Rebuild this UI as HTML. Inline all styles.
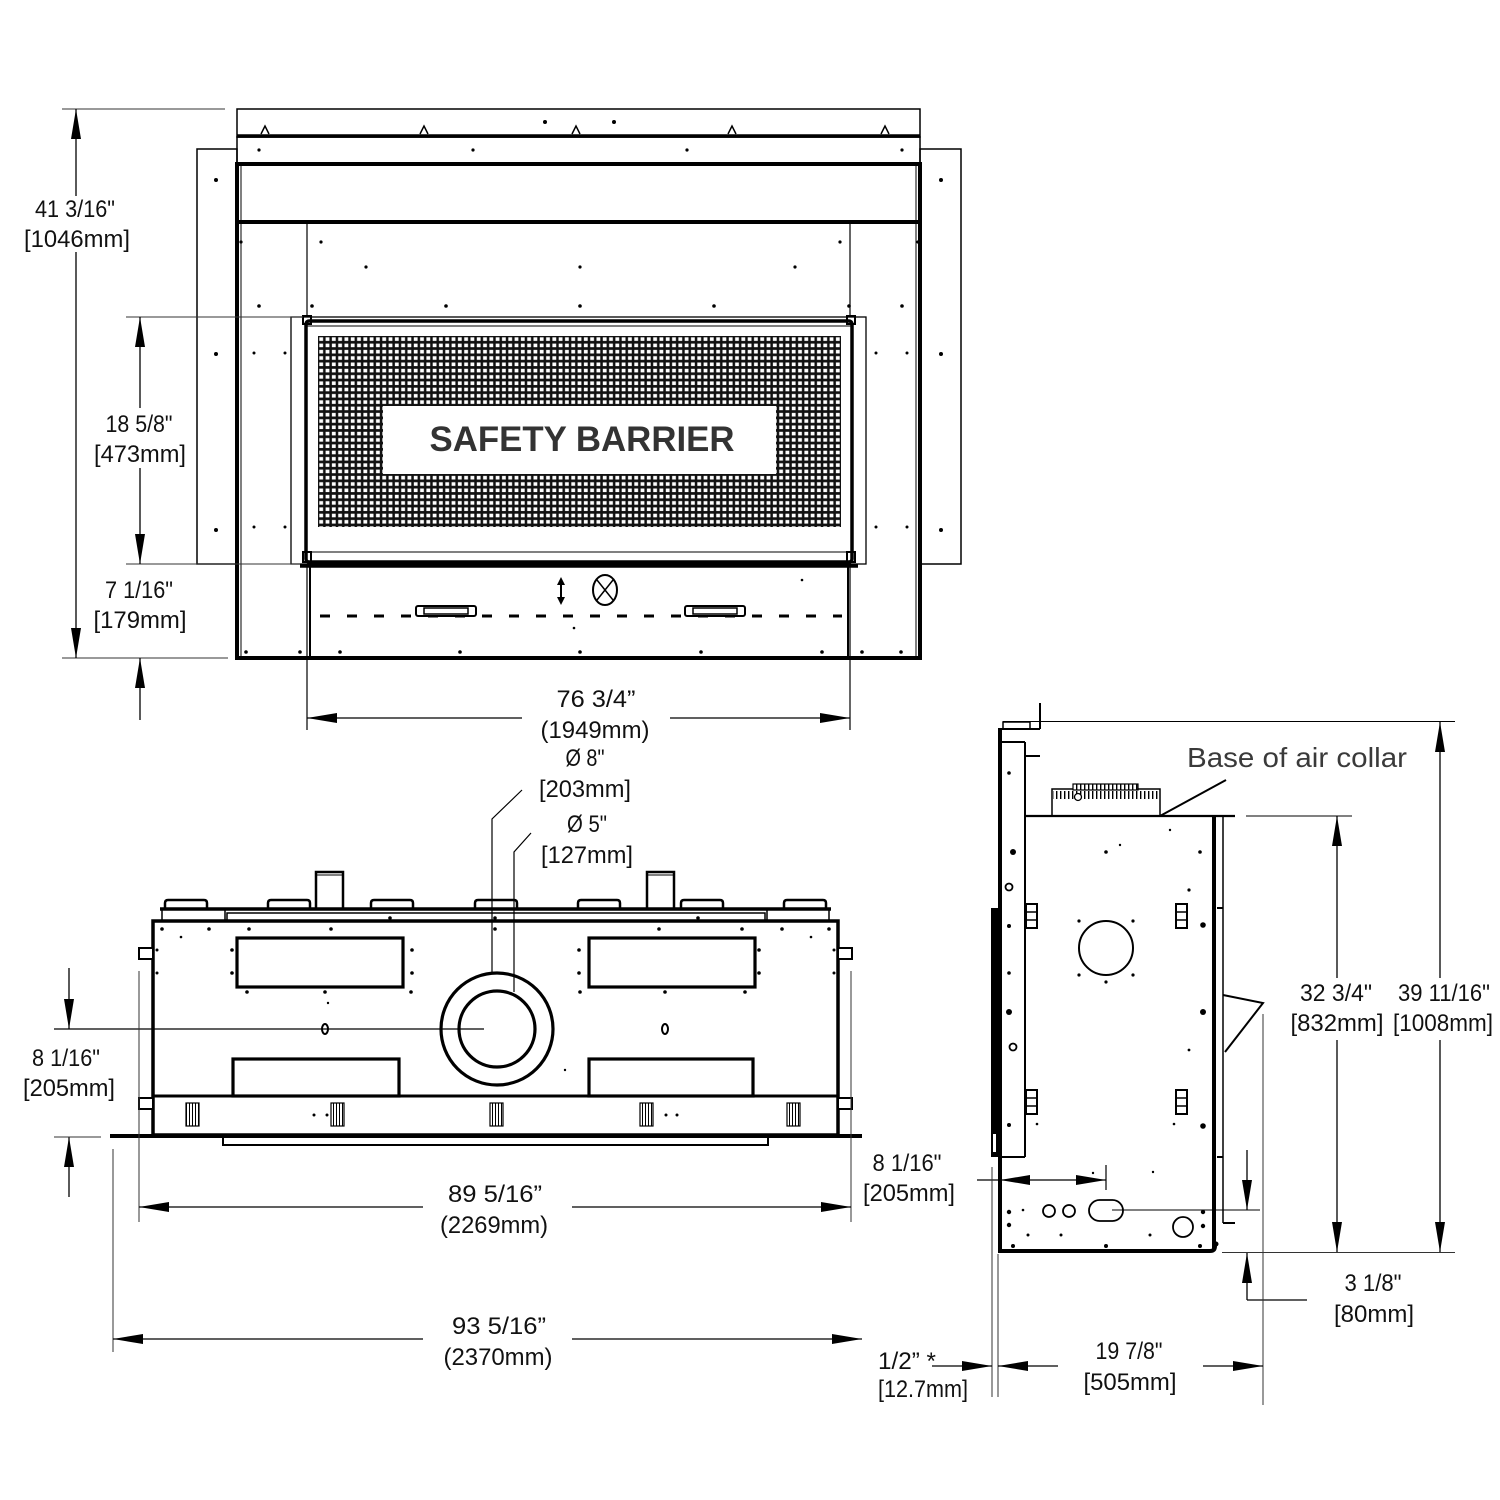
<!DOCTYPE html>
<html><head><meta charset="utf-8"><style>
html,body{margin:0;padding:0;background:#fff;}
svg{display:block;}
text{font-family:"Liberation Sans",sans-serif;font-size:24px;fill:#111;}
</style></head><body>
<svg width="1500" height="1500" viewBox="0 0 1500 1500" xmlns="http://www.w3.org/2000/svg">
<defs>
<marker id="a" viewBox="0 0 30 10" refX="30" refY="5" markerWidth="30" markerHeight="10" markerUnits="userSpaceOnUse" orient="auto-start-reverse"><path d="M0,0 L30,5 L0,10 z" fill="#000"/></marker>
<pattern id="mesh" x="318" y="336" width="6.3" height="6.3" patternUnits="userSpaceOnUse"><rect width="6.3" height="6.3" fill="#111"/><rect x="1.3" y="1.3" width="3.8" height="3.6" fill="#fff"/></pattern>
<pattern id="rib" x="0" y="0" width="4" height="20" patternUnits="userSpaceOnUse"><rect width="4" height="20" fill="#fff"/><rect width="1.4" height="20" fill="#000"/></pattern>
<pattern id="vent" x="0" y="0" width="3" height="30" patternUnits="userSpaceOnUse"><rect width="3" height="30" fill="#fff"/><rect width="1" height="30" fill="#000"/></pattern>
</defs>

<!-- ================= FRONT VIEW ================= -->
<g fill="none" stroke="#000">
  <rect x="237" y="109" width="683" height="28" stroke-width="1.5"/>
  <line x1="237" y1="136" x2="920" y2="136" stroke-width="3.5"/>
  <rect x="237" y="137" width="683" height="27" stroke-width="1.5"/>
  <line x1="235" y1="164" x2="922" y2="164" stroke-width="4"/>
  <line x1="237" y1="222" x2="920" y2="222" stroke-width="4"/>
  <line x1="237" y1="162" x2="237" y2="660" stroke-width="4"/>
  <line x1="920" y1="162" x2="920" y2="660" stroke-width="4"/>
  <line x1="235" y1="658" x2="922" y2="658" stroke-width="4"/>
  <line x1="241" y1="166" x2="241" y2="656" stroke-width="1"/>
  <line x1="916" y1="166" x2="916" y2="656" stroke-width="1"/>
  <rect x="197" y="149" width="40" height="415" stroke-width="1.5"/>
  <rect x="920" y="149" width="41" height="415" stroke-width="1.5"/>
  <g stroke-width="1.5">
    <path d="M261,134 L265,126 L269,134"/><path d="M420,134 L424,126 L428,134"/><path d="M572,134 L576,126 L580,134"/><path d="M728,134 L732,126 L736,134"/><path d="M881,134 L885,126 L889,134"/>
  </g>
  <line x1="307" y1="222" x2="307" y2="730" stroke-width="1.2"/>
  <line x1="850" y1="222" x2="850" y2="730" stroke-width="1.2"/>
  <!-- barrier -->
  <rect x="291" y="317" width="575" height="247" fill="#fff" stroke-width="1.3"/>
  <rect x="306" y="321" width="546" height="241" stroke-width="3.5" rx="3"/>
  <line x1="306" y1="326" x2="852" y2="326" stroke-width="1"/>
  <rect x="318" y="336" width="523" height="191" fill="url(#mesh)" stroke="none"/>
  <rect x="383" y="406" width="393" height="68" fill="#fff" stroke="none"/>
  <line x1="306" y1="552" x2="852" y2="552" stroke-width="1"/>
  <rect x="303" y="316" width="8" height="8" stroke-width="2"/>
  <rect x="847" y="316" width="8" height="8" stroke-width="2"/>
  <rect x="303" y="552" width="8" height="10" stroke-width="2"/>
  <rect x="847" y="552" width="8" height="10" stroke-width="2"/>
  <!-- lower panel -->
  <line x1="300" y1="566" x2="858" y2="566" stroke-width="3.5"/>
  <line x1="310" y1="566" x2="310" y2="658" stroke-width="2"/>
  <line x1="848" y1="566" x2="848" y2="658" stroke-width="2"/>
  <line x1="320" y1="616" x2="842" y2="616" stroke-width="3" stroke-dasharray="10 17"/>
  <rect x="416" y="606" width="60" height="10" rx="2" stroke-width="2" fill="#fff"/>
  <rect x="424" y="608" width="44" height="6" stroke-width="1.5"/>
  <rect x="685" y="606" width="60" height="10" rx="2" stroke-width="2" fill="#fff"/>
  <rect x="693" y="608" width="44" height="6" stroke-width="1.5"/>
  <line x1="561" y1="582" x2="561" y2="600" stroke-width="2"/>
  <ellipse cx="605" cy="590" rx="12" ry="15" stroke-width="2"/>
  <path d="M597,580 L613,600 M613,580 L597,600" stroke-width="1.5"/>
</g>
<path d="M561,577 L557,585 L565,585 z M561,605 L557,597 L565,597 z" fill="#000"/>
<text x="582" y="451" text-anchor="middle" font-weight="bold" style="font-size:35px;fill:#333" textLength="305" lengthAdjust="spacingAndGlyphs">SAFETY BARRIER</text>
<g fill="#000">
  <circle cx="545" cy="122" r="2"/><circle cx="614" cy="122" r="2"/>
  <circle cx="259" cy="150" r="1.6"/><circle cx="473" cy="150" r="1.6"/><circle cx="687" cy="150" r="1.6"/><circle cx="902" cy="150" r="1.6"/>
  <circle cx="216" cy="180" r="2"/><circle cx="216" cy="354" r="2"/><circle cx="216" cy="530" r="2"/>
  <circle cx="941" cy="180" r="2"/><circle cx="941" cy="354" r="2"/><circle cx="941" cy="530" r="2"/>
  <circle cx="241" cy="242" r="1.6"/><circle cx="321" cy="242" r="1.6"/><circle cx="840" cy="242" r="1.6"/><circle cx="918" cy="242" r="1.6"/>
  <circle cx="366" cy="267" r="1.6"/><circle cx="580" cy="267" r="1.6"/><circle cx="795" cy="267" r="1.6"/>
  <circle cx="259" cy="306" r="1.8"/><circle cx="312" cy="306" r="1.8"/><circle cx="446" cy="306" r="1.8"/><circle cx="580" cy="306" r="1.8"/><circle cx="714" cy="306" r="1.8"/><circle cx="849" cy="306" r="1.8"/><circle cx="902" cy="306" r="1.8"/>
  <circle cx="254" cy="353" r="1.5"/><circle cx="285" cy="353" r="1.5"/><circle cx="876" cy="353" r="1.5"/><circle cx="907" cy="353" r="1.5"/>
  <circle cx="254" cy="527" r="1.5"/><circle cx="285" cy="527" r="1.5"/><circle cx="876" cy="527" r="1.5"/><circle cx="907" cy="527" r="1.5"/>
  <circle cx="246" cy="652" r="1.8"/><circle cx="300" cy="652" r="1.8"/><circle cx="340" cy="652" r="1.8"/><circle cx="460" cy="652" r="1.8"/><circle cx="580" cy="652" r="1.8"/><circle cx="701" cy="652" r="1.8"/><circle cx="822" cy="652" r="1.8"/><circle cx="862" cy="652" r="1.8"/><circle cx="901" cy="652" r="1.8"/>
  <circle cx="802" cy="580" r="1.3"/><circle cx="574" cy="628" r="1.3"/>
</g>

<!-- Front view dimensions -->
<g stroke="#000" stroke-width="1.3" fill="none">
  <line x1="62" y1="109" x2="225" y2="109" stroke="#333" stroke-width="1"/>
  <line x1="62" y1="658" x2="228" y2="658" stroke="#333" stroke-width="1"/>
  <line x1="76" y1="196" x2="76" y2="109" marker-end="url(#a)"/>
  <line x1="76" y1="252" x2="76" y2="658" marker-end="url(#a)"/>
  <line x1="126" y1="317" x2="303" y2="317" stroke="#333" stroke-width="1"/>
  <line x1="126" y1="564" x2="300" y2="564" stroke="#333" stroke-width="1"/>
  <line x1="140" y1="408" x2="140" y2="317" marker-end="url(#a)"/>
  <line x1="140" y1="468" x2="140" y2="564" marker-end="url(#a)"/>
  <line x1="140" y1="720" x2="140" y2="658" marker-end="url(#a)"/>
  <line x1="522" y1="718" x2="307" y2="718" marker-end="url(#a)"/>
  <line x1="670" y1="718" x2="850" y2="718" marker-end="url(#a)"/>
</g>
<text x="75" y="217" text-anchor="middle" textLength="80" lengthAdjust="spacingAndGlyphs">41 3/16"</text>
<text x="77" y="247" text-anchor="middle" textLength="106" lengthAdjust="spacingAndGlyphs">[1046mm]</text>
<text x="139" y="432" text-anchor="middle" textLength="67" lengthAdjust="spacingAndGlyphs">18 5/8"</text>
<text x="140" y="462" text-anchor="middle" textLength="92" lengthAdjust="spacingAndGlyphs">[473mm]</text>
<text x="139" y="598" text-anchor="middle" textLength="68" lengthAdjust="spacingAndGlyphs">7 1/16"</text>
<text x="140" y="628" text-anchor="middle" textLength="93" lengthAdjust="spacingAndGlyphs">[179mm]</text>
<text x="596" y="707" text-anchor="middle" textLength="79" lengthAdjust="spacingAndGlyphs">76 3/4”</text>
<text x="595" y="738" text-anchor="middle" textLength="109" lengthAdjust="spacingAndGlyphs">(1949mm)</text>
<text x="585" y="766" text-anchor="middle" textLength="39" lengthAdjust="spacingAndGlyphs">Ø 8"</text>
<text x="585" y="797" text-anchor="middle" textLength="92" lengthAdjust="spacingAndGlyphs">[203mm]</text>
<text x="587" y="832" text-anchor="middle" textLength="40" lengthAdjust="spacingAndGlyphs">Ø 5"</text>
<text x="587" y="863" text-anchor="middle" textLength="92" lengthAdjust="spacingAndGlyphs">[127mm]</text>

<!-- leaders -->
<g stroke="#000" stroke-width="1.2" fill="none">
  <polyline points="522,790 492,819 492,973"/>
  <polyline points="531,833 514,852 514,992"/>
</g>

<!-- ================= PLAN (BOTTOM-LEFT) VIEW ================= -->
<g fill="none" stroke="#000">
  <g stroke-width="2.5">
    <path d="M165,910 L165,903 Q165,900 168,900 L204,900 Q207,900 207,903 L207,910"/>
    <path d="M268,910 L268,903 Q268,900 271,900 L307,900 Q310,900 310,903 L310,910"/>
    <path d="M371,910 L371,903 Q371,900 374,900 L410,900 Q413,900 413,903 L413,910"/>
    <path d="M475,910 L475,903 Q475,900 478,900 L514,900 Q517,900 517,903 L517,910"/>
    <path d="M578,910 L578,903 Q578,900 581,900 L617,900 Q620,900 620,903 L620,910"/>
    <path d="M681,910 L681,903 Q681,900 684,900 L720,900 Q723,900 723,903 L723,910"/>
    <path d="M784,910 L784,903 Q784,900 787,900 L823,900 Q826,900 826,903 L826,910"/>
    <rect x="316" y="872" width="27" height="37" fill="#fff"/>
    <rect x="647" y="872" width="27" height="37" fill="#fff"/>
  </g>
  <line x1="316" y1="875" x2="343" y2="875" stroke-width="1"/>
  <line x1="647" y1="875" x2="674" y2="875" stroke-width="1"/>
  <line x1="160" y1="909" x2="831" y2="909" stroke-width="3.5"/>
  <rect x="162" y="909" width="63" height="12" stroke-width="1.5"/>
  <rect x="227" y="913" width="538" height="8" stroke-width="1.5"/>
  <rect x="767" y="909" width="62" height="12" stroke-width="1.5"/>
  <rect x="153" y="921" width="685" height="214" stroke-width="3.5"/>
  <line x1="153" y1="1096" x2="838" y2="1096" stroke-width="3"/>
  <line x1="110" y1="1136" x2="862" y2="1136" stroke-width="4"/>
  <rect x="223" y="1137" width="545" height="8" stroke-width="2"/>
  <g stroke-width="2" fill="#fff">
    <rect x="139" y="948" width="14" height="11"/><rect x="139" y="1098" width="14" height="11"/>
    <rect x="838" y="948" width="14" height="11"/><rect x="838" y="1098" width="14" height="11"/>
  </g>
  <g stroke-width="3.2">
    <rect x="237" y="938" width="166" height="49"/>
    <rect x="589" y="938" width="166" height="49"/>
    <rect x="233" y="1059" width="166" height="37"/>
    <rect x="589" y="1059" width="164" height="37"/>
    <circle cx="497" cy="1029" r="56"/>
    <circle cx="497" cy="1029" r="38"/>
  </g>
  <g stroke-width="1.2" fill="url(#vent)">
    <rect x="186" y="1103" width="13" height="23"/>
    <rect x="331" y="1103" width="13" height="23"/>
    <rect x="490" y="1103" width="13" height="23"/>
    <rect x="640" y="1103" width="13" height="23"/>
    <rect x="787" y="1103" width="13" height="23"/>
  </g>
  <ellipse cx="325" cy="1029" rx="3" ry="5" stroke-width="2"/>
  <ellipse cx="665" cy="1029" rx="3" ry="5" stroke-width="2"/>
  <line x1="54" y1="1029" x2="484" y2="1029" stroke-width="1.2"/>
</g>
<g fill="#000">
  <circle cx="162" cy="929" r="1.8"/><circle cx="209" cy="929" r="1.8"/><circle cx="249" cy="929" r="1.8"/><circle cx="331" cy="929" r="1.8"/><circle cx="495" cy="929" r="1.8"/><circle cx="659" cy="929" r="1.8"/><circle cx="742" cy="929" r="1.8"/><circle cx="782" cy="929" r="1.8"/><circle cx="829" cy="929" r="1.8"/>
  <circle cx="181" cy="937" r="1.3"/><circle cx="811" cy="937" r="1.3"/><circle cx="390" cy="918" r="1.8"/><circle cx="495" cy="918" r="1.8"/><circle cx="698" cy="918" r="1.8"/>
  <circle cx="157" cy="950" r="1.5"/><circle cx="157" cy="973" r="1.5"/><circle cx="834" cy="950" r="1.5"/><circle cx="834" cy="973" r="1.5"/>
  <circle cx="232" cy="950" r="1.8"/><circle cx="232" cy="973" r="1.8"/><circle cx="412" cy="950" r="1.8"/><circle cx="412" cy="973" r="1.8"/>
  <circle cx="579" cy="950" r="1.8"/><circle cx="579" cy="973" r="1.8"/><circle cx="759" cy="950" r="1.8"/><circle cx="759" cy="973" r="1.8"/>
  <circle cx="247" cy="992" r="1.8"/><circle cx="325" cy="992" r="1.8"/><circle cx="411" cy="992" r="1.8"/><circle cx="580" cy="992" r="1.8"/><circle cx="665" cy="992" r="1.8"/><circle cx="745" cy="992" r="1.8"/>
  <circle cx="328" cy="1003" r="1.2"/><circle cx="565" cy="1070" r="1.2"/>
  <circle cx="314" cy="1115" r="1.5"/><circle cx="327" cy="1115" r="1.5"/><circle cx="666" cy="1115" r="1.5"/><circle cx="677" cy="1115" r="1.5"/>
</g>

<!-- plan dimensions -->
<g stroke="#000" stroke-width="1.3" fill="none">
  <line x1="69" y1="968" x2="69" y2="1029" marker-end="url(#a)"/>
  <line x1="69" y1="1197" x2="69" y2="1137" marker-end="url(#a)"/>
  <line x1="54" y1="1137" x2="101" y2="1137" stroke="#333" stroke-width="1"/>
  <line x1="139" y1="971" x2="139" y2="1222" stroke="#333" stroke-width="1"/>
  <line x1="851" y1="971" x2="851" y2="1222" stroke="#333" stroke-width="1"/>
  <line x1="113" y1="1149" x2="113" y2="1352" stroke="#333" stroke-width="1"/>
  <line x1="423" y1="1207" x2="139" y2="1207" marker-end="url(#a)"/>
  <line x1="572" y1="1207" x2="851" y2="1207" marker-end="url(#a)"/>
  <line x1="423" y1="1339" x2="113" y2="1339" marker-end="url(#a)"/>
  <line x1="572" y1="1339" x2="862" y2="1339" marker-end="url(#a)"/>
</g>
<text x="66" y="1066" text-anchor="middle" textLength="68" lengthAdjust="spacingAndGlyphs">8 1/16"</text>
<text x="69" y="1096" text-anchor="middle" textLength="92" lengthAdjust="spacingAndGlyphs">[205mm]</text>
<text x="495" y="1202" text-anchor="middle" textLength="94" lengthAdjust="spacingAndGlyphs">89 5/16”</text>
<text x="494" y="1233" text-anchor="middle" textLength="108" lengthAdjust="spacingAndGlyphs">(2269mm)</text>
<text x="499" y="1334" text-anchor="middle" textLength="94" lengthAdjust="spacingAndGlyphs">93 5/16”</text>
<text x="498" y="1365" text-anchor="middle" textLength="109" lengthAdjust="spacingAndGlyphs">(2370mm)</text>

<!-- ================= SIDE VIEW ================= -->
<g fill="none" stroke="#000">
  <line x1="1040" y1="703" x2="1040" y2="729" stroke-width="2"/>
  <line x1="998" y1="729" x2="1040" y2="729" stroke-width="2"/>
  <rect x="1003" y="722" width="27" height="7" stroke-width="1.5"/>
  <line x1="1003" y1="721.5" x2="1455" y2="721.5" stroke-width="1"/>
  <line x1="1000" y1="729" x2="1000" y2="1252" stroke-width="4"/>
  <line x1="1000" y1="742" x2="1025" y2="742" stroke-width="2"/>
  <line x1="1025" y1="742" x2="1025" y2="1157" stroke-width="2"/>
  <line x1="1025" y1="756" x2="1040" y2="756" stroke-width="2"/>
  <line x1="998" y1="1157" x2="1025" y2="1157" stroke-width="2"/>
  <rect x="1052" y="789" width="108" height="27" stroke-width="1.5"/>
  <rect x="1053" y="791" width="106" height="8" fill="url(#rib)" stroke="none"/>
  <rect x="1073" y="784" width="65" height="6" fill="url(#rib)" stroke-width="1.2"/>
  <circle cx="1078" cy="797" r="3.5" fill="#fff" stroke-width="1.3"/>
  <line x1="1025" y1="816" x2="1235" y2="816" stroke-width="2.2"/>
  <line x1="1246" y1="816" x2="1352" y2="816" stroke-width="1"/>
  <line x1="1160" y1="816" x2="1226" y2="780" stroke-width="2"/>
  <line x1="1214" y1="816" x2="1214" y2="1249" stroke-width="4"/>
  <line x1="1223" y1="816" x2="1223" y2="1223" stroke-width="1.5"/>
  <line x1="1217" y1="908" x2="1223" y2="908" stroke-width="2"/>
  <line x1="1217" y1="1157" x2="1223" y2="1157" stroke-width="2"/>
  <line x1="1223" y1="1223" x2="1235" y2="1223" stroke-width="2"/>
  <path d="M1223,995 L1263,1003 L1225,1052" stroke-width="2"/>
  <path d="M998,1251 L1210,1251 Q1215,1251 1215,1246" stroke-width="4"/>
  <circle cx="1106" cy="948" r="27" stroke-width="2"/>
  <g stroke-width="2" fill="#fff">
    <rect x="1026" y="904" width="11" height="24"/><rect x="1176" y="904" width="11" height="24"/>
    <rect x="1026" y="1090" width="11" height="24"/><rect x="1176" y="1090" width="11" height="24"/>
  </g>
  <g stroke-width="1.5">
    <line x1="1026" y1="912" x2="1037" y2="912"/><line x1="1026" y1="920" x2="1037" y2="920"/>
    <line x1="1176" y1="912" x2="1187" y2="912"/><line x1="1176" y1="920" x2="1187" y2="920"/>
    <line x1="1026" y1="1098" x2="1037" y2="1098"/><line x1="1026" y1="1106" x2="1037" y2="1106"/>
    <line x1="1176" y1="1098" x2="1187" y2="1098"/><line x1="1176" y1="1106" x2="1187" y2="1106"/>
  </g>
  <g stroke-width="1.8">
    <circle cx="1049" cy="1211" r="6"/><circle cx="1069" cy="1211" r="6"/>
    <rect x="1089" y="1200" width="34" height="21" rx="10.5"/>
    <circle cx="1183" cy="1227" r="10"/>
    <circle cx="1009" cy="887" r="3.5"/><circle cx="1013" cy="1047" r="3.5"/>
  </g>
  <line x1="1112" y1="1210" x2="1260" y2="1210" stroke-width="1"/>
</g>
<rect x="991" y="908" width="7" height="249" fill="#000"/>
<rect x="993" y="1134" width="3" height="18" fill="#fff"/>
<g fill="#000">
  <circle cx="1009" cy="773" r="1.8"/><circle cx="1013" cy="852" r="3"/><circle cx="1009" cy="926" r="2"/><circle cx="1009" cy="973" r="1.8"/>
  <circle cx="1079" cy="921" r="1.6"/><circle cx="1133" cy="921" r="1.6"/><circle cx="1079" cy="975" r="1.6"/><circle cx="1133" cy="975" r="1.6"/><circle cx="1106" cy="982" r="1.6"/>
  <circle cx="1106" cy="852" r="1.8"/><circle cx="1200" cy="852" r="1.8"/><circle cx="1189" cy="890" r="1.6"/><circle cx="1203" cy="925" r="2.8"/>
  <circle cx="1170" cy="830" r="1.2"/><circle cx="1120" cy="845" r="1.2"/>
  <circle cx="1009" cy="1012" r="3"/><circle cx="1203" cy="1012" r="3"/><circle cx="1189" cy="1050" r="1.4"/>
  <circle cx="1009" cy="1125" r="2"/><circle cx="1203" cy="1126" r="2.8"/><circle cx="1037" cy="1124" r="1.3"/><circle cx="1174" cy="1124" r="1.3"/>
  <circle cx="1093" cy="1173" r="1.2"/><circle cx="1153" cy="1172" r="1.2"/>
  <circle cx="1009" cy="1212" r="2.2"/><circle cx="1009" cy="1225" r="2.2"/><circle cx="1023" cy="1210" r="1.3"/><circle cx="1028" cy="1235" r="1.5"/><circle cx="1061" cy="1235" r="1.5"/><circle cx="1150" cy="1235" r="1.5"/>
  <circle cx="1203" cy="1212" r="2.2"/><circle cx="1203" cy="1226" r="2.2"/>
  <circle cx="1013" cy="1246" r="2"/><circle cx="1106" cy="1246" r="2"/><circle cx="1200" cy="1246" r="2"/><circle cx="1216" cy="1244" r="2.5"/>
</g>
<text x="1187" y="767" style="font-size:28px;fill:#3a3a3a" textLength="220" lengthAdjust="spacingAndGlyphs">Base of air collar</text>

<!-- side view dimensions -->
<g stroke="#000" stroke-width="1.3" fill="none">
  <line x1="1440" y1="978" x2="1440" y2="722" marker-end="url(#a)"/>
  <line x1="1440" y1="1040" x2="1440" y2="1252" marker-end="url(#a)"/>
  <line x1="1337" y1="978" x2="1337" y2="816" marker-end="url(#a)"/>
  <line x1="1337" y1="1040" x2="1337" y2="1252" marker-end="url(#a)"/>
  <line x1="1222" y1="1252.5" x2="1455" y2="1252.5" stroke="#333" stroke-width="1"/>
  <line x1="1247" y1="1150" x2="1247" y2="1210" marker-end="url(#a)"/>
  <line x1="1247" y1="1300" x2="1247" y2="1253" marker-end="url(#a)"/>
  <line x1="1247" y1="1300" x2="1307" y2="1300"/>
  <line x1="1263" y1="1014" x2="1263" y2="1405" stroke="#333" stroke-width="1"/>
  <line x1="977" y1="1180" x2="1000" y2="1180"/>
  <line x1="1050" y1="1180" x2="1000" y2="1180" marker-end="url(#a)"/>
  <line x1="1050" y1="1180" x2="1106" y2="1180" marker-end="url(#a)"/>
  <line x1="1106" y1="1165" x2="1106" y2="1190" stroke-width="1.2"/>
  <line x1="992" y1="1167" x2="992" y2="1397" stroke="#333" stroke-width="1"/>
  <line x1="998" y1="1254" x2="998" y2="1397" stroke="#333" stroke-width="1"/>
  <line x1="932" y1="1366" x2="992" y2="1366" marker-end="url(#a)"/>
  <line x1="1058" y1="1366" x2="998" y2="1366" marker-end="url(#a)"/>
  <line x1="1203" y1="1366" x2="1263" y2="1366" marker-end="url(#a)"/>
</g>
<text x="1336" y="1001" text-anchor="middle" textLength="72" lengthAdjust="spacingAndGlyphs">32 3/4"</text>
<text x="1337" y="1031" text-anchor="middle" textLength="93" lengthAdjust="spacingAndGlyphs">[832mm]</text>
<text x="1444" y="1001" text-anchor="middle" textLength="92" lengthAdjust="spacingAndGlyphs">39 11/16"</text>
<text x="1443" y="1031" text-anchor="middle" textLength="100" lengthAdjust="spacingAndGlyphs">[1008mm]</text>
<text x="1373" y="1291" text-anchor="middle" textLength="57" lengthAdjust="spacingAndGlyphs">3 1/8"</text>
<text x="1374" y="1322" text-anchor="middle" textLength="80" lengthAdjust="spacingAndGlyphs">[80mm]</text>
<text x="907" y="1171" text-anchor="middle" textLength="69" lengthAdjust="spacingAndGlyphs">8 1/16"</text>
<text x="909" y="1201" text-anchor="middle" textLength="92" lengthAdjust="spacingAndGlyphs">[205mm]</text>
<text x="878" y="1369" textLength="58" lengthAdjust="spacingAndGlyphs">1/2” *</text>
<text x="923" y="1397" text-anchor="middle" textLength="90" lengthAdjust="spacingAndGlyphs">[12.7mm]</text>
<text x="1129" y="1359" text-anchor="middle" textLength="67" lengthAdjust="spacingAndGlyphs">19 7/8"</text>
<text x="1130" y="1390" text-anchor="middle" textLength="93" lengthAdjust="spacingAndGlyphs">[505mm]</text>
</svg>
</body></html>
